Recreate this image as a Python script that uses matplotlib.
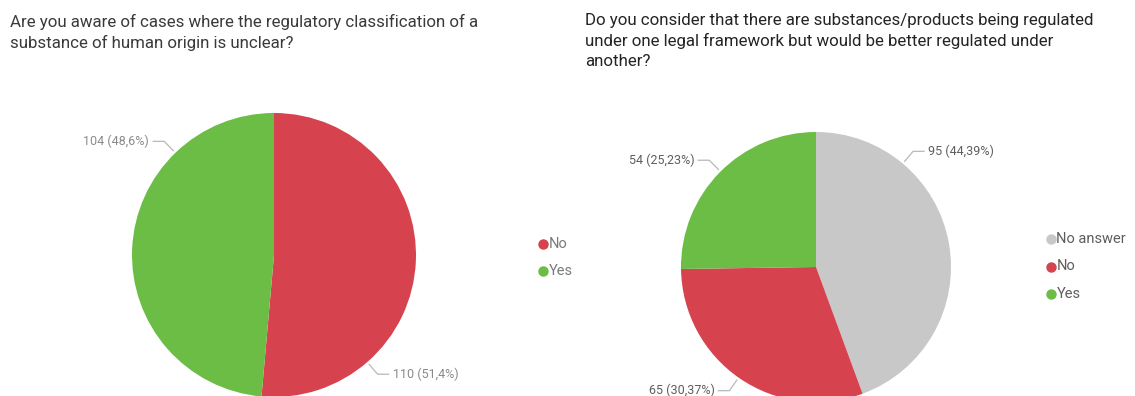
import numpy as np
import matplotlib
matplotlib.use("Agg")
import matplotlib.pyplot as plt
from matplotlib.lines import Line2D

# survey answers
q1_title = "Are you aware of cases where the regulatory classification of a\nsubstance of human origin is unclear?"
q1_labels = ["No", "Yes"]
q1_values = [110, 104]

q2_title = ("Do you consider that there are substances/products being regulated\n"
            "under one legal framework but would be better regulated under\nanother?")
q2_labels = ["No answer", "No", "Yes"]
q2_values = [95, 65, 54]

colors = {"No answer": "#C8C8C8", "No": "#D6434F", "Yes": "#6BBD45"}

W, H = 1135, 396
fig = plt.figure(figsize=(W / 100, H / 100), dpi=100)
fig.patch.set_facecolor("white")
plt.rcParams['font.family'] = ['Roboto', 'DejaVu Sans']


def pie_axes(cx, cy, r):
    """axes whose data box [-1,1] maps to a circle of r px at (cx, cy)"""
    ax = fig.add_axes([(cx - r) / W, (H - cy - r) / H, 2 * r / W, 2 * r / H])
    return ax


def draw_pie(ax, labels, values, decimals, label_angles, r_px, txt_color):
    wedges, _ = ax.pie(values, colors=[colors[l] for l in labels], startangle=90,
                       counterclock=False, radius=1,
                       wedgeprops=dict(linewidth=0))
    for w in wedges:
        w.set_clip_on(False)
    ax.set_xlim(-1, 1)
    ax.set_ylim(-1, 1)
    ax.axis('off')
    total = sum(values)
    for v, ang in zip(values, label_angles):
        pct = f"{100 * v / total:.{decimals}f}".replace(".", ",")
        a = np.deg2rad(ang)
        r0 = 1 + 3 / r_px
        r1 = 1 + 16 / r_px
        x0, y0 = r0 * np.cos(a), r0 * np.sin(a)
        x1, y1 = r1 * np.cos(a), r1 * np.sin(a)
        side = 1 if np.cos(a) > 0 else -1
        x2 = x1 + side * 11 / r_px
        ax.add_line(Line2D([x0, x1, x2], [y0, y1, y1], color="#B8B8B8", lw=0.9,
                           clip_on=False))
        ax.text(x2 + side * 4 / r_px, y1, f"{v} ({pct}%)", fontsize=9,
                color=txt_color, ha="left" if side > 0 else "right", va="center")


def legend(x, y0, dy, labels, txt_color, fs):
    for i, l in enumerate(labels):
        y = y0 + i * dy
        fig.add_artist(Line2D([x / W], [1 - y / H], marker="o", markersize=6.5,
                              color=colors[l], linestyle="none"))
        fig.text((x + 5.5) / W, 1 - y / H, l, fontsize=fs, color=txt_color,
                 va="center", ha="left")


# titles
fig.text(10 / W, 1 - 14 / H, q1_title, fontsize=12.2, color="#3A3A3A",
         va="top", ha="left", linespacing=1.38)
fig.text(585 / W, 1 - 13 / H, q2_title, fontsize=12.2, color="#252423",
         va="top", ha="left", linespacing=1.38)

# left pie
ax1 = pie_axes(274, 255, 142)
draw_pie(ax1, q1_labels, q1_values, 1, [-49, 134], 142, "#8A8A8A")
legend(543, 244, 27, q1_labels, "#7A7A7A", 10.5)

# right pie
ax2 = pie_axes(816, 267, 135)
draw_pie(ax2, q2_labels, q2_values, 2, [50, -125, 135], 135, "#605E5C")
legend(1051, 239, 27.5, q2_labels, "#605E5C", 10.5)

fig.savefig("out.png", dpi=100, facecolor="white")
